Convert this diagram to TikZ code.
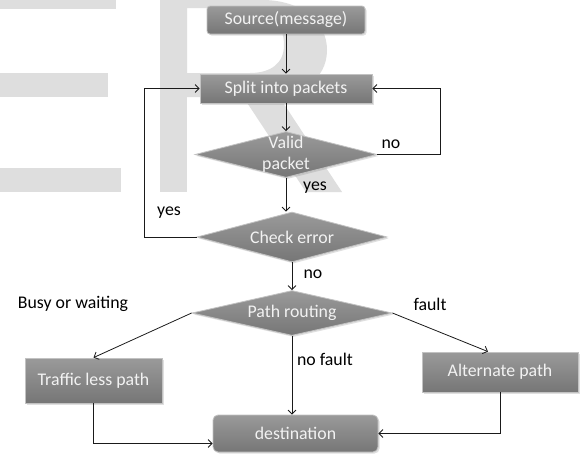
\documentclass[tikz,border=0pt]{standalone}
\usepackage{fontspec}
\setmainfont{Carlito}
\usetikzlibrary{arrows.meta,shapes.geometric,shadows}
\definecolor{wm}{HTML}{DEDEDE}
\definecolor{boxtop}{HTML}{9A9A9A}
\definecolor{boxbot}{HTML}{767676}
\definecolor{boxline}{HTML}{C2C2C2}
\definecolor{txt}{HTML}{F2F2F2}
\definecolor{ln}{HTML}{1A1A1A}
\begin{document}
\begin{tikzpicture}[x=1pt,y=-1pt,
  font=\fontsize{17.8}{21}\selectfont,
  procbox/.style={rectangle, draw=boxline, line width=0.8pt, top color=boxtop, bottom color=boxbot, text=txt, inner sep=0pt,
    drop shadow={opacity=0.25, shadow xshift=1.5pt, shadow yshift=-1.5pt}},
  decbox/.style={diamond, draw=boxline, line width=0.8pt, top color=boxtop, bottom color=boxbot, inner sep=0pt,
    drop shadow={opacity=0.25, shadow xshift=1.5pt, shadow yshift=-1.5pt}},
  dectext/.style={text=txt, align=center, inner sep=0pt},
  conn/.style={draw=ln, line width=0.8pt, -{Straight Barb[length=4pt,width=8pt]}},
  lbl/.style={text=black, inner sep=0pt}
]
\useasboundingbox (0,0) rectangle (581,456);
\fill[white] (0,0) rectangle (581,456);
% watermark
\fill[wm] (0,0) rectangle (116,9);
\fill[wm] (0,73) rectangle (108,97);
\fill[wm] (0,168) rectangle (121,192);
\fill[wm] (160,0) rectangle (187,192);
\fill[wm,even odd rule] (187,0) -- (262,0) .. controls (302,0) and (327,22) .. (327,50) .. controls (327,80) and (300,97) .. (262,97) -- (187,97) -- cycle
   (187,8) -- (250,8) .. controls (272,8) and (284,26) .. (284,45) .. controls (284,64) and (270,73) .. (250,73) -- (187,73) -- cycle;
\fill[wm] (240,92) -- (276,92) -- (342,192) -- (306,192) -- cycle;

% nodes
\node[procbox, rounded corners=3pt, minimum width=158pt, minimum height=28pt] (src) at (286,20) {Source(message)};
\node[procbox, minimum width=172pt, minimum height=29pt] (split) at (286,88.5) {Split into packets};
\node[decbox, minimum width=182pt, minimum height=46pt, label={[dectext]center:Valid\\packet}] (valid) at (286,154.5) {};
\node[decbox, minimum width=190pt, minimum height=50pt, label={[dectext]center:Check error}] (check) at (292,237) {};
\node[decbox, minimum width=200pt, minimum height=45pt, label={[dectext]center:Path routing}] (route) at (292,313) {};
\node[procbox, minimum width=137pt, minimum height=45pt] (traffic) at (93.5,380.5) {Traffic less path};
\node[procbox, minimum width=156pt, minimum height=40pt] (alt) at (500,372) {Alternate path};
\node[procbox, rounded corners=5pt, minimum width=165pt, minimum height=37pt] (dest) at (295.5,433.5) {destination};

% connectors
\draw[conn] (src) -- (split);
\draw[conn] (split) -- (valid);
\draw[conn] (valid.south) -- (valid.south |- check.north);
\draw[conn] (valid.east) -- ++(63,0) |- (split.east);
\draw[conn] (check.west) -- ++(-52,0) |- (split.west);
\draw[conn] (check.south) -- (route.north);
\draw[conn] (route.west) -- (traffic.north);
\draw[conn] (route.east) -- ([xshift=-12pt]alt.north);
\draw[conn] (route.south) -- (route.south |- dest.north);
\draw[conn] (traffic.south) |- ([yshift=-10pt]dest.west);
\draw[conn] (alt.south) |- (dest.east);

% labels
\node[lbl] (lno1) at (391,144) {no};
\node[lbl] (lyes1) at (315,188) {yes};
\node[lbl] (lyes2) at (169,213) {yes};
\node[lbl] (lno2) at (313,274) {no};
\node[lbl] (lbusy) at (73,304) {Busy or waiting};
\node[lbl] (lfault) at (430,304) {fault};
\node[lbl] (lnofault) at (325,359) {no fault};
\end{tikzpicture}
\end{document}
